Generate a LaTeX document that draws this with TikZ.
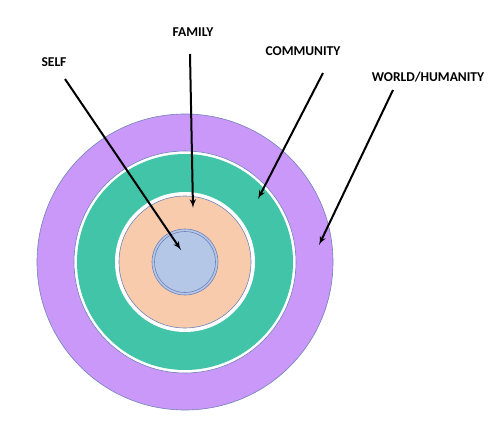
\documentclass[tikz,border=0pt]{standalone}
\usepackage{fontspec}
\setmainfont{Carlito}
\usepackage{tikz}
\usetikzlibrary{shapes,arrows}
\definecolor{worldc}{HTML}{CA98F8}
\definecolor{commc}{HTML}{41C4A8}
\definecolor{famc}{HTML}{F8CBAD}
\definecolor{selfc}{HTML}{B4C7E7}
\definecolor{rimc}{HTML}{6F82B8}

\begin{document}
\begin{tikzpicture}[x=1pt,y=-1pt,
    disc/.style ={circle, draw=none, inner sep=0pt, outer sep=0pt},
    rim/.style ={disc, draw=rimc, line width=0.6pt},
    label_text/.style ={font=\bfseries\fontsize{13.5}{15}\selectfont, inner sep=1pt},
    pointer/.style ={draw, line width=2pt, -latex'}]
    \useasboundingbox (0,0) rectangle (499,436);
    % rings from the outside in
    \node [rim, fill=worldc, minimum size=296pt] (world) at (185,262) {};
    \node [rim, fill=white, minimum size=222pt] (gap_outer) at (world.center) {};
    \node [disc, fill=commc, minimum size=216pt] (community) at (world.center) {};
    \node [disc, fill=white, minimum size=140pt] (gap_inner) at (world.center) {};
    \node [rim, fill=famc, minimum size=132pt] (family) at (world.center) {};
    \node [rim, fill=selfc, minimum size=66pt] (self) at (world.center) {};
    \node [rim, minimum size=61pt] (self_inner) at (world.center) {};
    % labels
    \node [label_text] (self_lbl) at (54,62) {SELF};
    \node [label_text] (family_lbl) at (193,32) {FAMILY};
    \node [label_text] (community_lbl) at (303,51) {COMMUNITY};
    \node [label_text] (world_lbl) at (428,77) {WORLD/HUMANITY};
    % arrow ends
    \coordinate (self_from) at (65,79);
    \coordinate (self_to) at (181,250);
    \coordinate (family_from) at (190,54);
    \coordinate (family_to) at (193,208);
    \coordinate (community_from) at (323,73);
    \coordinate (community_to) at (258,199);
    \coordinate (world_from) at (393,90);
    \coordinate (world_to) at (319,245);
    \begin{scope}[every path/.style=pointer]
      \path (self_from) -- (self_to);
      \path (family_from) -- (family_to);
      \path (community_from) -- (community_to);
      \path (world_from) -- (world_to);
    \end{scope}
\end{tikzpicture}
\end{document}
